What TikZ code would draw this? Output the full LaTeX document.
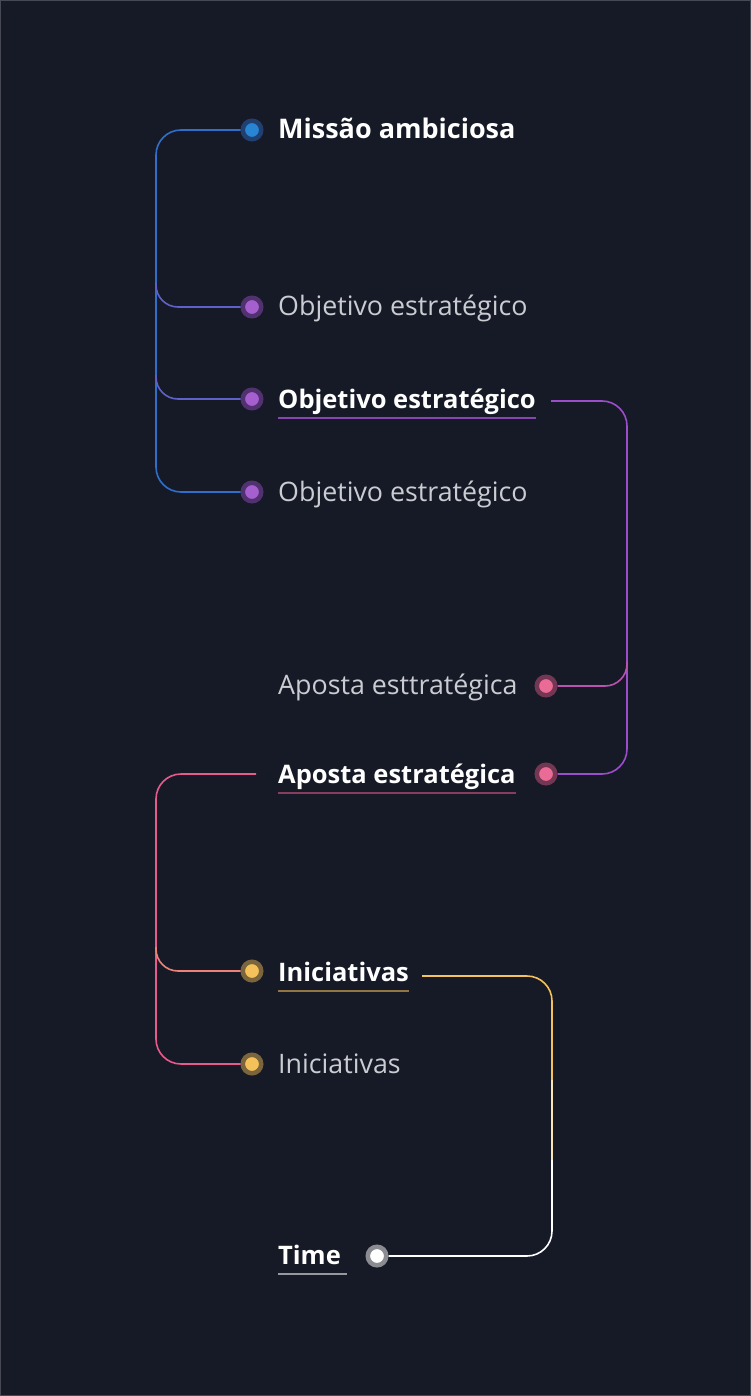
\documentclass[tikz,border=0pt]{standalone}
\usepackage{fontspec}
\setmainfont{Open Sans}
\usetikzlibrary{positioning}

\definecolor{bgC}{HTML}{161A26}
\definecolor{frameC}{HTML}{474A55}
\definecolor{softC}{HTML}{CACCD2}
\definecolor{blueC}{HTML}{2F6FCB}
\definecolor{purpC}{HTML}{9B4DCA}
\definecolor{pinkC}{HTML}{E85A8A}
\definecolor{goldC}{HTML}{F5C15A}

\begin{document}
\begin{tikzpicture}[
  x=1pt, y=-1pt,
  dot/.style={circle, inner sep=0pt, minimum size=18.5pt, line width=4.5pt},
  title/.style={anchor=base west, inner sep=0pt, text=white, font=\fontsize{27}{32}\selectfont\bfseries},
  strong/.style={anchor=base west, inner sep=0pt, text=white, font=\fontsize{25.5}{30}\selectfont\bfseries},
  soft/.style={anchor=base west, inner sep=0pt, text=softC, font=\fontsize{26.8}{32}\selectfont},
  link/.style={line width=1.6pt},
  uline/.style={line width=1.5pt},
]

\useasboundingbox (0,0) rectangle (751,1396);
\fill[bgC] (0,0) rectangle (751,1396);
\draw[frameC, line width=1pt] (0.5,0.5) rectangle (750.5,1395.5);

% dots
\node[dot, draw=blueC!45!bgC, fill=blueC!85!cyan] (dM) at (252,130) {};
\node[dot, draw=purpC!45!bgC, fill=purpC!90!white] (dO1) at (252,307) {};
\node[dot, draw=purpC!45!bgC, fill=purpC!90!white] (dO2) at (252,399) {};
\node[dot, draw=purpC!45!bgC, fill=purpC!90!white] (dO3) at (252,492) {};
\node[dot, draw=pinkC!45!bgC, fill=pinkC!90!white] (dA1) at (546,686) {};
\node[dot, draw=pinkC!45!bgC, fill=pinkC!90!white] (dA2) at (546,774) {};
\node[dot, draw=goldC!45!bgC, fill=goldC] (dI1) at (252,971) {};
\node[dot, draw=goldC!45!bgC, fill=goldC] (dI2) at (252,1064) {};
\node[dot, draw=white!50!bgC, fill=white] (dT) at (377,1256) {};

% texts
\node[title] (mission) at (278,139) {Missão ambiciosa};
\node[soft] (obj1) at (278,316) {Objetivo estratégico};
\node[strong] (obj2) at (278,408) {Objetivo estratégico};
\node[soft] (obj3) at (278,501) {Objetivo estratégico};
\node[soft] (bet1) at (278,694) {Aposta esttratégica};
\node[strong] (bet2) at (278,783) {Aposta estratégica};
\node[strong] (ini1) at (278,981) {Iniciativas};
\node[soft] (ini2) at (278,1073) {Iniciativas};
\node[strong] (team) at (278,1264) {Time};

% underlines
\draw[uline, purpC!85!bgC] ([yshift=-10pt]obj2.base west) -- ([yshift=-10pt]obj2.base east);
\draw[uline, pinkC!55!bgC] ([yshift=-10pt]bet2.base west) -- ([yshift=-10pt]bet2.base east);
\draw[uline, goldC!55!bgC] ([yshift=-10pt]ini1.base west) -- ([yshift=-10pt]ini1.base east);
\draw[uline, white!55!bgC] ([yshift=-10pt]team.base west) -- ([xshift=6pt, yshift=-10pt]team.base east);

% blue bracket
\coordinate (jB) at (156,400);
\draw[link, blueC, rounded corners=25pt] (dM.west) -| (jB) |- (dO3.west);
\draw[link, blueC!55!purpC, rounded corners=22pt] ([yshift=24pt]jB |- dO1) |- (dO1.west);
\draw[link, blueC!55!purpC, rounded corners=22pt] ([yshift=24pt]jB |- dO2) |- (dO2.west);

% purple bracket
\coordinate (pS) at (551,401);
\coordinate (jP) at (627,600);
\draw[link, purpC, rounded corners=25pt] (pS) -| (jP) |- (dA2.east);
\draw[link, purpC!60!pinkC, rounded corners=22pt] ([yshift=24pt]jP |- dA1) |- (dA1.east);

% pink bracket
\coordinate (kS) at (256,774);
\coordinate (jK) at (156,900);
\draw[link, pinkC, rounded corners=25pt] (kS) -| (jK) |- (dI2.west);
\draw[link, pinkC!60!goldC, rounded corners=22pt] ([yshift=24pt]jK |- dI1) |- (dI1.west);

% gold bracket
\coordinate (gS) at (422,976);
\coordinate (jG1) at (552,1080);
\coordinate (jG2) at (552,1160);
\draw[link, goldC, rounded corners=25pt] (gS) -| (jG1);
\draw[link, goldC!45!white] (jG1) -- (jG2);
\draw[link, white, rounded corners=25pt] (jG2) |- (dT.east);

\end{tikzpicture}
\end{document}
